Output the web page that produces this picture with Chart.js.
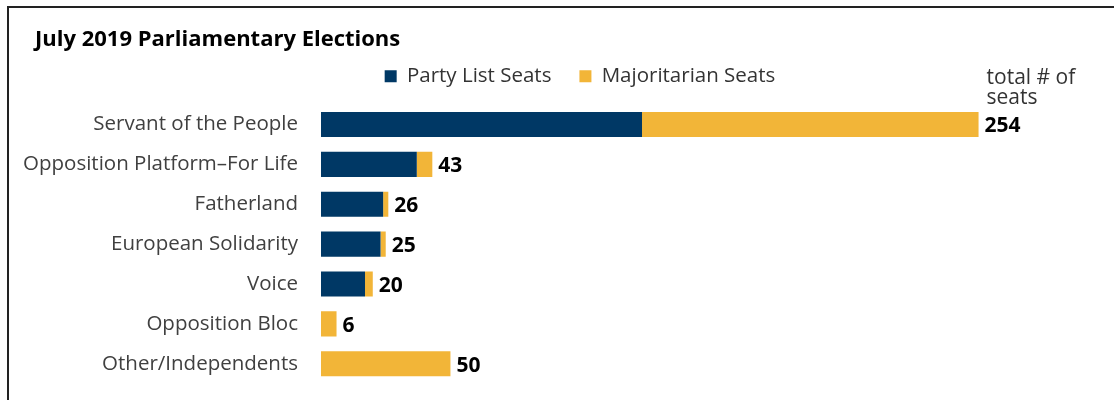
<!DOCTYPE html>
<html>
<head>
<meta charset="utf-8">
<script src="https://cdn.jsdelivr.net/npm/chart.js@4"></script>
<style>
    body { margin: 0; background: #fff; overflow: hidden; }
    #frame {
        position: absolute; left: 7px; top: 6px; right: 0; bottom: 0;
        border-top: 2px solid #222; border-left: 2px solid #222;
    }
    #title {
        position: absolute; left: 35px; top: 22px;
        font: bold 22px "Open Sans", sans-serif; color: #000;
    }
    #wrap { position: absolute; left: 0; top: 0; width: 1160px; height: 419px; }
</style>
</head>
<body>
<div id="frame"></div>
<div id="wrap"><canvas id="chart"></canvas></div>
<div id="title">July 2019 Parliamentary Elections</div>
<script>
// seats by party, 2019 Verkhovna Rada
const parties = ["Servant of the People", "Opposition Platform\u2013For Life", "Fatherland",
    "European Solidarity", "Voice", "Opposition Bloc", "Other/Independents"];
const partyListSeats = [124, 37, 24, 23, 17, 0, 0];
const majoritarianSeats = [130, 6, 2, 2, 3, 6, 50];
const totalSeats = [254, 43, 26, 25, 20, 6, 50];

const navy = "#003865";
const gold = "#F2B538";
const font = "'Open Sans', sans-serif";

// draws the bold totals at the bar ends + the "total # of seats" note
const totalsPlugin = {
    id: "totals",
    afterDatasetsDraw(chart) {
        const ctx = chart.ctx;
        const xs = chart.scales.x, ys = chart.scales.y;
        ctx.save();
        ctx.font = "bold 21px " + font;
        ctx.fillStyle = "#000";
        ctx.textBaseline = "middle";
        ctx.textAlign = "left";
        totalSeats.forEach((t, i) => {
            ctx.fillText(String(t), xs.getPixelForValue(t) + 6, ys.getPixelForValue(i) + 2);
        });
        ctx.font = "21px " + font;
        ctx.fillStyle = "#333";
        const x0 = xs.getPixelForValue(totalSeats[0]) + 8;
        const y0 = ys.getPixelForValue(0);
        ctx.fillText("total # of", x0, y0 - 46);
        ctx.fillText("seats", x0, y0 - 26);
        ctx.restore();
    }
};

new Chart(document.getElementById("chart"), {
    type: "bar",
    data: {
        labels: parties,
        datasets: [{
            label: "Party List Seats",
            data: partyListSeats,
            backgroundColor: navy
        }, {
            label: "Majoritarian Seats",
            data: majoritarianSeats,
            backgroundColor: gold
        }]
    },
    options: {
        indexAxis: "y",
        responsive: true,
        maintainAspectRatio: false,
        animation: false,
        layout: { padding: { left: 8, right: 8, top: 38, bottom: 14 } },
        datasets: { bar: { categoryPercentage: 0.63, barPercentage: 1 } },
        scales: {
            x: {
                stacked: true, position: "top", min: 0, max: 321,
                grid: { display: false, drawTicks: false },
                border: { display: false },
                ticks: { display: false },
                afterFit(scale) { scale.height = 8; }   // gap under the legend
            },
            y: {
                stacked: true,
                grid: { display: false, drawTicks: false },
                border: { display: false },
                ticks: { padding: 23, color: "#404040", font: { family: font, size: 20.5 } },
                afterFit(scale) { scale.width = 313; }
            }
        },
        plugins: {
            legend: {
                position: "top",
                labels: {
                    boxWidth: 12, boxHeight: 12, padding: 28,
                    color: "#333", font: { family: font, size: 20.5 }
                }
            },
            tooltip: { enabled: false }
        }
    },
    plugins: [totalsPlugin]
});
</script>
</body>
</html>
